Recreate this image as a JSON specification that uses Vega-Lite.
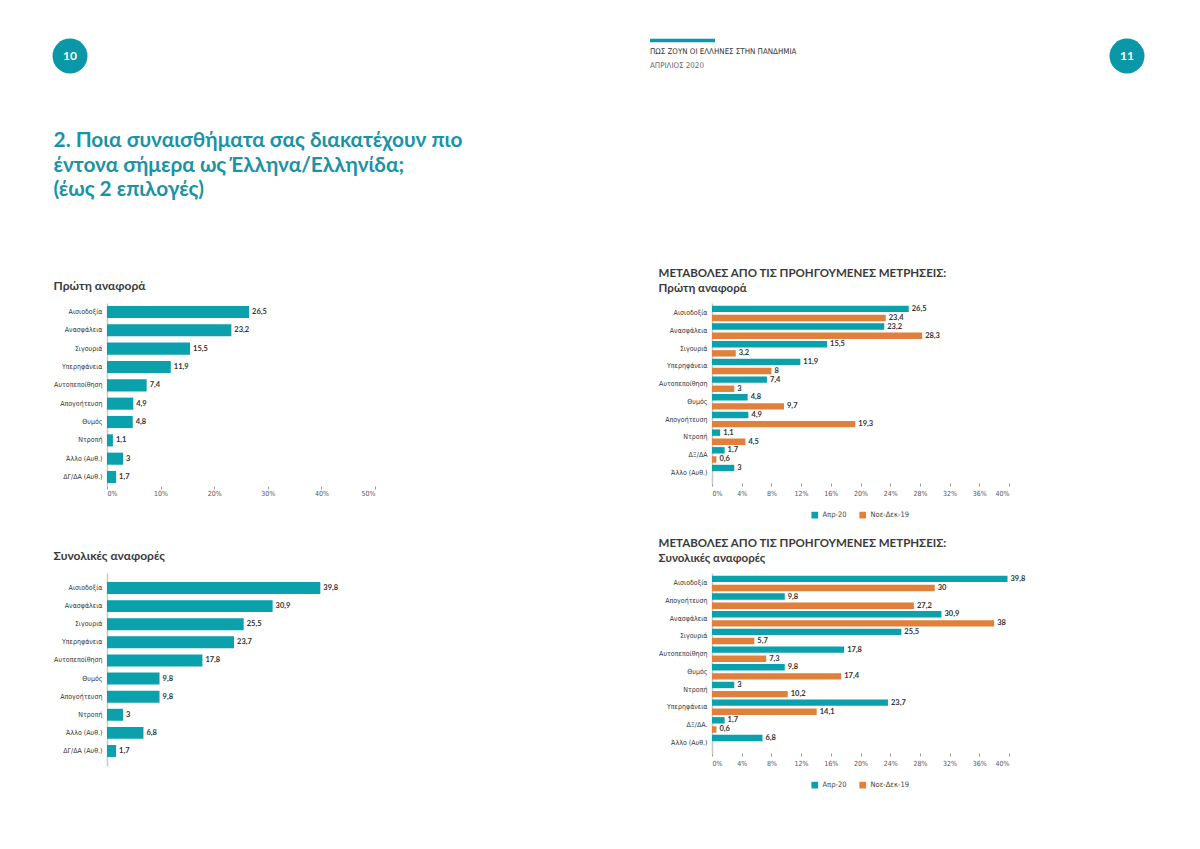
{
  "$schema": "https://vega.github.io/schema/vega-lite/v6.json",
  "background": "white",
  "padding": {"left": 52, "top": 38, "right": 40, "bottom": 20},
  "columns": 2,
  "bounds": "flush",
  "spacing": {"row": 87, "column": 337},
  "datasets": {
    "first": [
      {"feeling": "Αισιοδοξία", "value": 26.5},
      {"feeling": "Ανασφάλεια", "value": 23.2},
      {"feeling": "Σιγουριά", "value": 15.5},
      {"feeling": "Υπερηφάνεια", "value": 11.9},
      {"feeling": "Αυτοπεποίθηση", "value": 7.4},
      {"feeling": "Απογοήτευση", "value": 4.9},
      {"feeling": "Θυμός", "value": 4.8},
      {"feeling": "Ντροπή", "value": 1.1},
      {"feeling": "Άλλο (Αυθ.)", "value": 3},
      {"feeling": "ΔΓ/ΔΑ (Αυθ.)", "value": 1.7}
    ],
    "total": [
      {"feeling": "Αισιοδοξία", "value": 39.8},
      {"feeling": "Ανασφάλεια", "value": 30.9},
      {"feeling": "Σιγουριά", "value": 25.5},
      {"feeling": "Υπερηφάνεια", "value": 23.7},
      {"feeling": "Αυτοπεποίθηση", "value": 17.8},
      {"feeling": "Θυμός", "value": 9.8},
      {"feeling": "Απογοήτευση", "value": 9.8},
      {"feeling": "Ντροπή", "value": 3},
      {"feeling": "Άλλο (Αυθ.)", "value": 6.8},
      {"feeling": "ΔΓ/ΔΑ (Αυθ.)", "value": 1.7}
    ],
    "firstCmp": [
      {"feeling": "Αισιοδοξία", "period": "Απρ-20", "value": 26.5},
      {"feeling": "Αισιοδοξία", "period": "Νοε-Δεκ-19", "value": 23.4},
      {"feeling": "Ανασφάλεια", "period": "Απρ-20", "value": 23.2},
      {"feeling": "Ανασφάλεια", "period": "Νοε-Δεκ-19", "value": 28.3},
      {"feeling": "Σιγουριά", "period": "Απρ-20", "value": 15.5},
      {"feeling": "Σιγουριά", "period": "Νοε-Δεκ-19", "value": 3.2},
      {"feeling": "Υπερηφάνεια", "period": "Απρ-20", "value": 11.9},
      {"feeling": "Υπερηφάνεια", "period": "Νοε-Δεκ-19", "value": 8},
      {"feeling": "Αυτοπεποίθηση", "period": "Απρ-20", "value": 7.4},
      {"feeling": "Αυτοπεποίθηση", "period": "Νοε-Δεκ-19", "value": 3},
      {"feeling": "Θυμός", "period": "Απρ-20", "value": 4.8},
      {"feeling": "Θυμός", "period": "Νοε-Δεκ-19", "value": 9.7},
      {"feeling": "Απογοήτευση", "period": "Απρ-20", "value": 4.9},
      {"feeling": "Απογοήτευση", "period": "Νοε-Δεκ-19", "value": 19.3},
      {"feeling": "Ντροπή", "period": "Απρ-20", "value": 1.1},
      {"feeling": "Ντροπή", "period": "Νοε-Δεκ-19", "value": 4.5},
      {"feeling": "ΔΞ/ΔΑ", "period": "Απρ-20", "value": 1.7},
      {"feeling": "ΔΞ/ΔΑ", "period": "Νοε-Δεκ-19", "value": 0.6},
      {"feeling": "Άλλο (Αυθ.)", "period": "Απρ-20", "value": 3}
    ],
    "totalCmp": [
      {"feeling": "Αισιοδοξία", "period": "Απρ-20", "value": 39.8},
      {"feeling": "Αισιοδοξία", "period": "Νοε-Δεκ-19", "value": 30},
      {"feeling": "Απογοήτευση", "period": "Απρ-20", "value": 9.8},
      {"feeling": "Απογοήτευση", "period": "Νοε-Δεκ-19", "value": 27.2},
      {"feeling": "Ανασφάλεια", "period": "Απρ-20", "value": 30.9},
      {"feeling": "Ανασφάλεια", "period": "Νοε-Δεκ-19", "value": 38},
      {"feeling": "Σιγουριά", "period": "Απρ-20", "value": 25.5},
      {"feeling": "Σιγουριά", "period": "Νοε-Δεκ-19", "value": 5.7},
      {"feeling": "Αυτοπεποίθηση", "period": "Απρ-20", "value": 17.8},
      {"feeling": "Αυτοπεποίθηση", "period": "Νοε-Δεκ-19", "value": 7.3},
      {"feeling": "Θυμός", "period": "Απρ-20", "value": 9.8},
      {"feeling": "Θυμός", "period": "Νοε-Δεκ-19", "value": 17.4},
      {"feeling": "Ντροπή", "period": "Απρ-20", "value": 3},
      {"feeling": "Ντροπή", "period": "Νοε-Δεκ-19", "value": 10.2},
      {"feeling": "Υπερηφάνεια", "period": "Απρ-20", "value": 23.7},
      {"feeling": "Υπερηφάνεια", "period": "Νοε-Δεκ-19", "value": 14.1},
      {"feeling": "ΔΞ/ΔΑ.", "period": "Απρ-20", "value": 1.7},
      {"feeling": "ΔΞ/ΔΑ.", "period": "Νοε-Δεκ-19", "value": 0.6},
      {"feeling": "Άλλο (Αυθ.)", "period": "Απρ-20", "value": 6.8}
    ],
    "pageLeft": [{"page": "10"}],
    "pageRight": [{"page": "11", "header": "ΠΩΣ ΖΟΥΝ ΟΙ ΕΛΛΗΝΕΣ ΣΤΗΝ ΠΑΝΔΗΜΙΑ", "date": "ΑΠΡΙΛΙΟΣ 2020"}]
  },
  "concat": [
    {
      "data": {"name": "pageLeft"},
      "width": 268,
      "height": 160,
      "encoding": {
        "x": {"datum": "start", "type": "nominal", "scale": {"type": "point", "domain": ["start", "end"], "padding": 0}, "axis": null},
        "y": {"datum": "top", "type": "nominal", "scale": {"type": "point", "domain": ["top", "bottom"], "padding": 0}, "axis": null}
      },
      "layer": [
        {"mark": {"type": "point", "filled": true, "shape": "circle", "size": 1225, "color": "#0a98a8", "opacity": 1, "xOffset": -37}},
        {"mark": {"type": "text", "color": "white", "font": "Lato", "fontWeight": "bold", "fontSize": 12, "dx": -37, "baseline": "middle"}, "encoding": {"text": {"field": "page", "type": "nominal"}}}
      ]
    },
    {
      "data": {"name": "pageRight"},
      "width": 415,
      "height": 160,
      "encoding": {
        "y": {"datum": "top", "type": "nominal", "scale": {"type": "point", "domain": ["top", "bottom"], "padding": 0}, "axis": null}
      },
      "layer": [
        {"mark": {"type": "point", "filled": true, "shape": "M0,-0.055L2,-0.055L2,0.055L0,0.055Z", "size": 4225, "color": "#0a98a8", "opacity": 1, "xOffset": -62, "yOffset": -15.5},
         "encoding": {"x": {"datum": "hdr", "type": "nominal", "scale": {"type": "point", "domain": ["hdr", "page"], "padding": 0}, "axis": null}}},
        {"mark": {"type": "text", "align": "left", "baseline": "middle", "dx": -62, "dy": -4, "font": "Liberation Sans Narrow, DejaVu Sans Condensed, sans-serif", "fontSize": 7.9, "color": "#333333"},
         "encoding": {"x": {"datum": "hdr", "type": "nominal"}, "text": {"field": "header", "type": "nominal"}}},
        {"mark": {"type": "text", "align": "left", "baseline": "middle", "dx": -62, "dy": 10, "font": "Liberation Sans Narrow, DejaVu Sans Condensed, sans-serif", "fontSize": 7.9, "color": "#666666"},
         "encoding": {"x": {"datum": "hdr", "type": "nominal"}, "text": {"field": "date", "type": "nominal"}}},
        {"mark": {"type": "point", "filled": true, "shape": "circle", "size": 1225, "color": "#0a98a8", "opacity": 1},
         "encoding": {"x": {"datum": "page", "type": "nominal"}}},
        {"mark": {"type": "text", "color": "white", "font": "Lato", "fontWeight": "bold", "fontSize": 12, "baseline": "middle"},
         "encoding": {"x": {"datum": "page", "type": "nominal"}, "text": {"field": "page", "type": "nominal"}}}
      ]
    },
    {
      "data": {"name": "first"},
      "width": 268,
      "height": 183,
      "title": {
        "text": ["2. Ποια συναισθήματα σας διακατέχουν πιο", "έντονα σήμερα ως Έλληνα/Ελληνίδα;", "(έως 2 επιλογές)"],
        "subtitle": "Πρώτη αναφορά",
        "anchor": "start",
        "font": "Lato", "fontSize": 20.8, "fontWeight": "bold", "color": "#1a93a6", "lineHeight": 24.5,
        "subtitleFont": "Lato", "subtitleFontSize": 12, "subtitleFontWeight": "bold", "subtitleColor": "#3a3a3a",
        "subtitlePadding": 80, "offset": 10
      },
      "encoding": {
        "y": {"field": "feeling", "type": "nominal", "sort": null, "scale": {"paddingInner": 0.34, "paddingOuter": 0.16},
              "axis": {"title": null, "domain": true, "domainColor": "#c8c8c8", "domainWidth": 1.5, "ticks": false, "labelPadding": 5, "labelFontSize": 7, "labelColor": "#333333", "labelFont": "Liberation Sans Narrow, DejaVu Sans Condensed, sans-serif"}},
        "x": {"field": "value", "type": "quantitative", "scale": {"domain": [0, 50]},
              "axis": {"title": null, "values": [0, 10, 20, 30, 40, 50], "domain": false, "grid": false, "ticks": true, "tickColor": "#999999", "tickSize": 3, "labelPadding": 0, "labelFontSize": 7, "labelColor": "#555555", "labelFont": "Liberation Sans Narrow, DejaVu Sans Condensed, sans-serif", "labelExpr": "datum.value + '%'"}}
      },
      "layer": [
        {"mark": {"type": "bar", "color": "#0aa1ac"}},
        {"mark": {"type": "text", "align": "left", "baseline": "middle", "dx": 3, "fontSize": 7.5, "fontWeight": "bold", "color": "#333333", "font": "Lato"},
         "encoding": {"text": {"field": "value", "type": "quantitative", "format": ".3~r"}}}
      ]
    },
    {
      "data": {"name": "firstCmp"},
      "width": 297,
      "height": 180,
      "title": {
        "text": ["ΜΕΤΑΒΟΛΕΣ ΑΠΟ ΤΙΣ ΠΡΟΗΓΟΥΜΕΝΕΣ ΜΕΤΡΗΣΕΙΣ:", "Πρώτη αναφορά"],
        "anchor": "start", "font": "Lato", "fontSize": 11.5, "fontWeight": "bold", "color": "#3a3a3a", "lineHeight": 15, "offset": 9
      },
      "encoding": {
        "y": {"field": "feeling", "type": "nominal", "sort": null, "scale": {"paddingInner": 0.12, "paddingOuter": 0.15},
              "axis": {"title": null, "domain": true, "domainColor": "#c8c8c8", "domainWidth": 1.5, "ticks": false, "labelPadding": 5, "labelFontSize": 7, "labelColor": "#333333", "labelFont": "Liberation Sans Narrow, DejaVu Sans Condensed, sans-serif"}},
        "yOffset": {"field": "period", "type": "nominal", "scale": {"domain": ["Απρ-20", "Νοε-Δεκ-19"], "paddingInner": 0.3}},
        "x": {"field": "value", "type": "quantitative", "scale": {"domain": [0, 40]},
              "axis": {"title": null, "values": [0, 4, 8, 12, 16, 20, 24, 28, 32, 36, 40], "domain": false, "grid": false, "ticks": true, "tickColor": "#999999", "tickSize": 3, "labelPadding": 3, "labelFontSize": 7, "labelColor": "#555555", "labelFont": "Liberation Sans Narrow, DejaVu Sans Condensed, sans-serif", "labelExpr": "datum.value + '%'"}}
      },
      "layer": [
        {"mark": {"type": "bar"},
         "encoding": {"color": {"field": "period", "type": "nominal", "scale": {"domain": ["Απρ-20", "Νοε-Δεκ-19"], "range": ["#0aa1ac", "#e0803a"]},
                                "legend": {"title": null, "orient": "bottom", "direction": "horizontal", "symbolType": "square", "symbolSize": 45, "symbolStrokeWidth": 0, "labelFontSize": 7.5, "labelColor": "#444444", "labelFont": "Liberation Sans Narrow, DejaVu Sans Condensed, sans-serif", "columnPadding": 12, "offset": 15, "padding": 0}}}},
        {"mark": {"type": "text", "align": "left", "baseline": "middle", "dx": 3, "fontSize": 7.5, "fontWeight": "bold", "color": "#333333", "font": "Lato"},
         "encoding": {"text": {"field": "value", "type": "quantitative", "format": ".3~r"}}}
      ]
    },
    {
      "data": {"name": "total"},
      "width": 268,
      "height": 193,
      "title": {"text": "Συνολικές αναφορές", "anchor": "start", "font": "Lato", "fontSize": 12, "fontWeight": "bold", "color": "#3a3a3a", "offset": 10},
      "encoding": {
        "y": {"field": "feeling", "type": "nominal", "sort": null, "scale": {"paddingInner": 0.34, "paddingOuter": 0.5},
              "axis": {"title": null, "domain": true, "domainColor": "#c8c8c8", "domainWidth": 1.5, "ticks": false, "labelPadding": 5, "labelFontSize": 7, "labelColor": "#333333", "labelFont": "Liberation Sans Narrow, DejaVu Sans Condensed, sans-serif"}},
        "x": {"field": "value", "type": "quantitative", "scale": {"domain": [0, 50]}, "axis": null}
      },
      "layer": [
        {"mark": {"type": "bar", "color": "#0aa1ac"}},
        {"mark": {"type": "text", "align": "left", "baseline": "middle", "dx": 3, "fontSize": 7.5, "fontWeight": "bold", "color": "#333333", "font": "Lato"},
         "encoding": {"text": {"field": "value", "type": "quantitative", "format": ".3~r"}}}
      ]
    },
    {
      "data": {"name": "totalCmp"},
      "width": 297,
      "height": 180,
      "title": {
        "text": ["ΜΕΤΑΒΟΛΕΣ ΑΠΟ ΤΙΣ ΠΡΟΗΓΟΥΜΕΝΕΣ ΜΕΤΡΗΣΕΙΣ:", "Συνολικές αναφορές"],
        "anchor": "start", "font": "Lato", "fontSize": 11.5, "fontWeight": "bold", "color": "#3a3a3a", "lineHeight": 15, "offset": 9
      },
      "encoding": {
        "y": {"field": "feeling", "type": "nominal", "sort": null, "scale": {"paddingInner": 0.12, "paddingOuter": 0.15},
              "axis": {"title": null, "domain": true, "domainColor": "#c8c8c8", "domainWidth": 1.5, "ticks": false, "labelPadding": 5, "labelFontSize": 7, "labelColor": "#333333", "labelFont": "Liberation Sans Narrow, DejaVu Sans Condensed, sans-serif"}},
        "yOffset": {"field": "period", "type": "nominal", "scale": {"domain": ["Απρ-20", "Νοε-Δεκ-19"], "paddingInner": 0.3}},
        "x": {"field": "value", "type": "quantitative", "scale": {"domain": [0, 40]},
              "axis": {"title": null, "values": [0, 4, 8, 12, 16, 20, 24, 28, 32, 36, 40], "domain": false, "grid": false, "ticks": true, "tickColor": "#999999", "tickSize": 3, "labelPadding": 3, "labelFontSize": 7, "labelColor": "#555555", "labelFont": "Liberation Sans Narrow, DejaVu Sans Condensed, sans-serif", "labelExpr": "datum.value + '%'"}}
      },
      "layer": [
        {"mark": {"type": "bar"},
         "encoding": {"color": {"field": "period", "type": "nominal", "scale": {"domain": ["Απρ-20", "Νοε-Δεκ-19"], "range": ["#0aa1ac", "#e0803a"]},
                                "legend": {"title": null, "orient": "bottom", "direction": "horizontal", "symbolType": "square", "symbolSize": 45, "symbolStrokeWidth": 0, "labelFontSize": 7.5, "labelColor": "#444444", "labelFont": "Liberation Sans Narrow, DejaVu Sans Condensed, sans-serif", "columnPadding": 12, "offset": 15, "padding": 0}}}},
        {"mark": {"type": "text", "align": "left", "baseline": "middle", "dx": 3, "fontSize": 7.5, "fontWeight": "bold", "color": "#333333", "font": "Lato"},
         "encoding": {"text": {"field": "value", "type": "quantitative", "format": ".3~r"}}}
      ]
    }
  ],
  "resolve": {
    "scale": {"x": "independent", "y": "independent", "yOffset": "independent", "color": "independent"},
    "legend": {"color": "independent"}
  },
  "config": {
    "view": {"stroke": null},
    "font": "Lato",
    "locale": {"number": {"decimal": ",", "thousands": ".", "grouping": [3], "currency": ["", " €"]}},
    "legend": {"layout": {"bottom": {"anchor": "middle"}}}
  }
}
